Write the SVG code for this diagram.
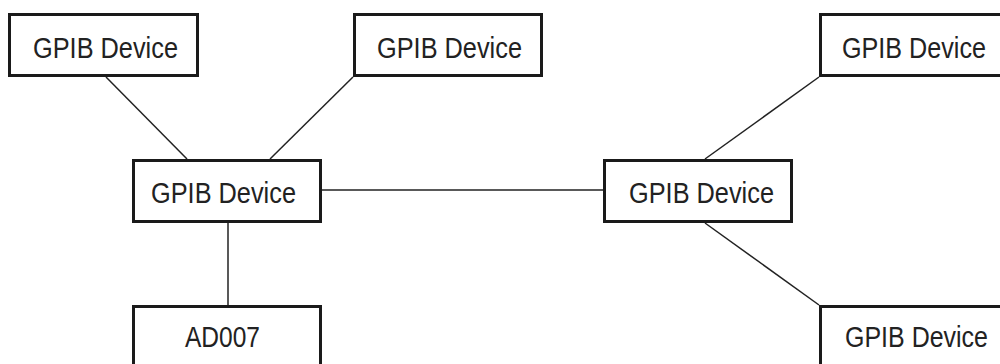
<svg xmlns="http://www.w3.org/2000/svg" width="1000" height="364" viewBox="0 0 1000 364">
<style>
.box{fill:#fff;stroke:#1a1a1a;stroke-width:3}
.lbl{font-family:"Liberation Sans",Arial,sans-serif;font-size:29px;fill:#222}
.conn line{stroke:#222;stroke-width:1.5}
</style>
<rect width="1000" height="364" fill="#fff"/>
<g class="conn" id="connectors">
<line x1="106" y1="77" x2="187" y2="159"/>
<line x1="353" y1="77" x2="270" y2="159"/>
<line x1="228" y1="223" x2="228" y2="305"/>
<line x1="322" y1="190" x2="603" y2="190"/>
<line x1="705" y1="159" x2="819" y2="77"/>
<line x1="705" y1="223" x2="819" y2="305"/>
</g>
<g id="node-a">
<rect class="box" x="9.5" y="14.5" width="188" height="61"/>
<text class="lbl" x="33" y="58" textLength="145" lengthAdjust="spacingAndGlyphs">GPIB Device</text>
</g>
<g id="node-b">
<rect class="box" x="354.5" y="14.5" width="187" height="61"/>
<text class="lbl" x="377" y="58" textLength="145" lengthAdjust="spacingAndGlyphs">GPIB Device</text>
</g>
<g id="node-c">
<rect class="box" x="133.5" y="160.5" width="187" height="61"/>
<text class="lbl" x="151" y="203" textLength="145" lengthAdjust="spacingAndGlyphs">GPIB Device</text>
</g>
<g id="node-d">
<rect class="box" x="133.5" y="306.5" width="187" height="61"/>
<text class="lbl" x="185" y="347" textLength="75" lengthAdjust="spacingAndGlyphs">AD007</text>
</g>
<g id="node-e">
<rect class="box" x="604.5" y="160.5" width="187" height="61"/>
<text class="lbl" x="629" y="203" textLength="145" lengthAdjust="spacingAndGlyphs">GPIB Device</text>
</g>
<g id="node-f">
<rect class="box" x="820.5" y="14.5" width="200" height="61"/>
<text class="lbl" x="842" y="58" textLength="144" lengthAdjust="spacingAndGlyphs">GPIB Device</text>
</g>
<g id="node-g">
<rect class="box" x="820.5" y="306.5" width="200" height="61"/>
<text class="lbl" x="845" y="347" textLength="143" lengthAdjust="spacingAndGlyphs">GPIB Device</text>
</g>
</svg>
